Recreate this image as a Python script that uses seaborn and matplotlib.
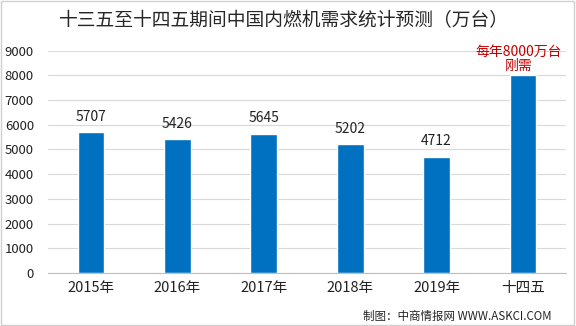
import matplotlib
matplotlib.use("Agg")
import matplotlib.pyplot as plt
import seaborn as sns
import pandas as pd

categories = ["2015年", "2016年", "2017年", "2018年", "2019年", "十四五"]
values = [5707, 5426, 5645, 5202, 4712, 8000]
value_labels = ["5707", "5426", "5645", "5202", "4712", ""]
yticks = [0, 1000, 2000, 3000, 4000, 5000, 6000, 7000, 8000, 9000]
title = "十三五至十四五期间中国内燃机需求统计预测（万台）"
note = "每年8000万台\n刚需"
source = "制图：中商情报网 WWW.ASKCI.COM"

sns.set_theme(style="white")
plt.rcParams['font.family'] = ['Noto Sans CJK SC', 'DejaVu Sans']

df = pd.DataFrame({"cat": categories, "val": values})

fig = plt.figure(figsize=(5.76, 3.26), dpi=100)
ax = fig.add_axes([0.083, 0.1626, 0.9, 0.682])
sns.barplot(data=df, x="cat", y="val", color="#0070C0", saturation=1, width=0.31, ax=ax)

ax.set_ylim(0, 9000)
ax.set_yticks(yticks)
ax.set_yticklabels([str(t) for t in yticks], fontsize=9.5, color="#222222")
ax.yaxis.grid(True, color="#D9D9D9", linewidth=0.8)
ax.set_axisbelow(True)
for s in ["top", "right", "left"]:
    ax.spines[s].set_visible(False)
ax.spines["bottom"].set_color("#BFBFBF")
ax.spines["bottom"].set_linewidth(0.8)
ax.tick_params(axis="both", length=0, pad=6)
ax.tick_params(axis="y", pad=10)
ax.set_xlabel("")
ax.set_ylabel("")
for lab in ax.get_xticklabels():
    lab.set_fontsize(10.5)
    lab.set_color("#222222")

for i, (v, t) in enumerate(zip(values, value_labels)):
    if t:
        ax.annotate(t, (i, v), xytext=(0, 6), textcoords="offset points",
                    ha="center", va="bottom", fontsize=10, color="#222222")
ax.annotate(note, (5, values[5]), xytext=(-3, 2), textcoords="offset points",
            ha="center", va="bottom", fontsize=10, color="#C00000", linespacing=1.0)

fig.text(0.493, 0.937, title, ha="center", va="center", fontsize=13.5, color="#262626")
fig.text(0.958, 0.03, source, ha="right", va="center", fontsize=8.3, color="#222222")

border = plt.Rectangle((0.002, 0.003), 0.995, 0.994, transform=fig.transFigure,
                       fill=False, edgecolor="#D0D0D0", linewidth=1)
fig.patches.append(border)

fig.savefig("out.png", dpi=100)
